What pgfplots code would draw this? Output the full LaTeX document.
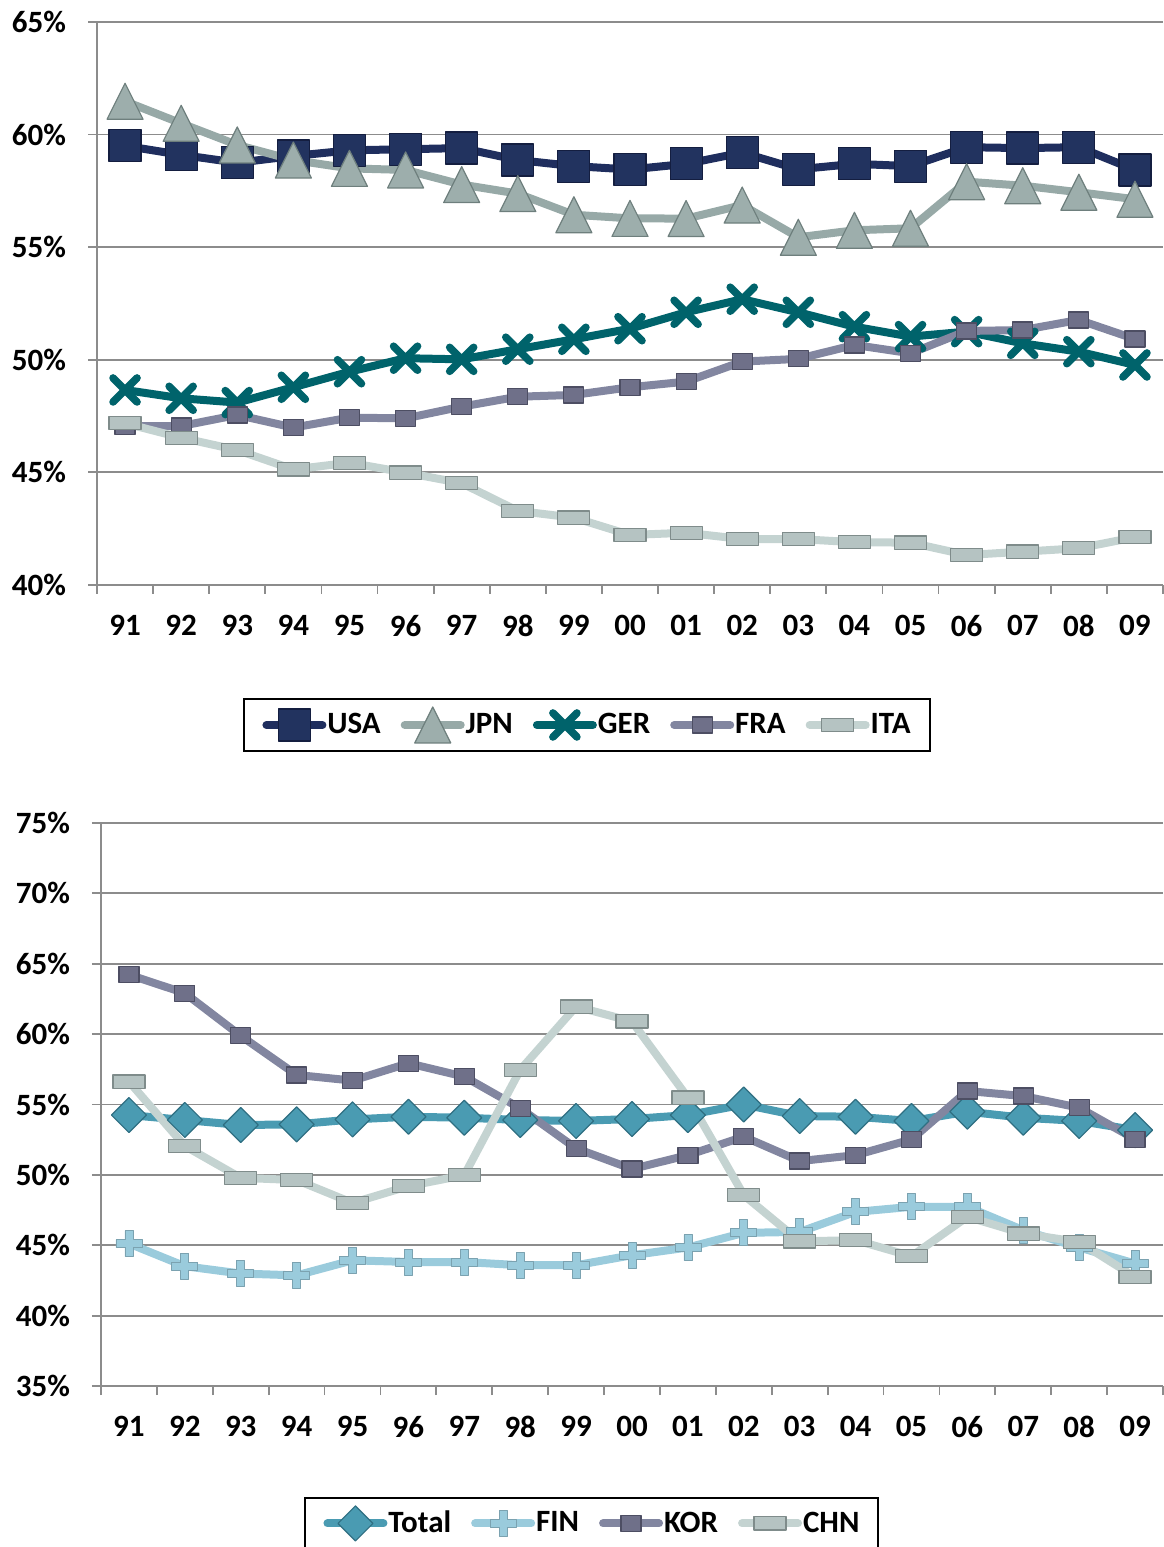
\documentclass[border=0pt]{standalone}
\usepackage{fontspec}
\setmainfont{Carlito}
\usepackage{pgfplots}
\pgfplotsset{compat=1.18}

\definecolor{gridgray}{HTML}{8C8C8C}
\definecolor{usaC}{HTML}{1F2E5E}
\definecolor{usaF}{HTML}{22335F}
\definecolor{usaD}{HTML}{141E40}
\definecolor{jpnC}{HTML}{97A9A7}
\definecolor{jpnF}{HTML}{9DAEAC}
\definecolor{jpnD}{HTML}{6E7F7D}
\definecolor{gerC}{HTML}{00636B}
\definecolor{fraC}{HTML}{8286A0}
\definecolor{fraF}{HTML}{6F7089}
\definecolor{fraD}{HTML}{4D4E63}
\definecolor{itaC}{HTML}{C4D3D1}
\definecolor{itaF}{HTML}{B5C3C2}
\definecolor{itaD}{HTML}{7F8C8B}
\definecolor{totC}{HTML}{4A9BB2}
\definecolor{totD}{HTML}{2F6F82}
\definecolor{finC}{HTML}{9ACBDC}

\pgfdeclareplotmark{usasq}{\pgfpathrectangle{\pgfqpoint{-8pt}{-8pt}}{\pgfqpoint{16pt}{16pt}}\pgfusepathqfillstroke}
\pgfdeclareplotmark{jpntri}{\pgfpathmoveto{\pgfqpoint{0pt}{9pt}}\pgfpathlineto{\pgfqpoint{9pt}{-9pt}}\pgfpathlineto{\pgfqpoint{-9pt}{-9pt}}\pgfpathclose\pgfusepathqfillstroke}
\pgfdeclareplotmark{gerx}{\pgfsetlinewidth{3.8pt}\pgfpathmoveto{\pgfqpoint{-6pt}{-6pt}}\pgfpathlineto{\pgfqpoint{6pt}{6pt}}\pgfpathmoveto{\pgfqpoint{-6pt}{6pt}}\pgfpathlineto{\pgfqpoint{6pt}{-6pt}}\pgfusepathqstroke}
\pgfdeclareplotmark{smallsq}{\pgfpathrectangle{\pgfqpoint{-5pt}{-4pt}}{\pgfqpoint{10pt}{8pt}}\pgfusepathqfillstroke}
\pgfdeclareplotmark{flatrect}{\pgfpathrectangle{\pgfqpoint{-8pt}{-3.3pt}}{\pgfqpoint{16pt}{6.6pt}}\pgfusepathqfillstroke}
\pgfdeclareplotmark{bigdia}{\pgfpathmoveto{\pgfqpoint{0pt}{8.75pt}}\pgfpathlineto{\pgfqpoint{8.75pt}{0pt}}\pgfpathlineto{\pgfqpoint{0pt}{-8.75pt}}\pgfpathlineto{\pgfqpoint{-8.75pt}{0pt}}\pgfpathclose\pgfusepathqfillstroke}
\pgfdeclareplotmark{fatplus}{\pgfpathmoveto{\pgfqpoint{-2pt}{6.5pt}}\pgfpathlineto{\pgfqpoint{2pt}{6.5pt}}\pgfpathlineto{\pgfqpoint{2pt}{2pt}}\pgfpathlineto{\pgfqpoint{6.5pt}{2pt}}\pgfpathlineto{\pgfqpoint{6.5pt}{-2pt}}\pgfpathlineto{\pgfqpoint{2pt}{-2pt}}\pgfpathlineto{\pgfqpoint{2pt}{-6.5pt}}\pgfpathlineto{\pgfqpoint{-2pt}{-6.5pt}}\pgfpathlineto{\pgfqpoint{-2pt}{-2pt}}\pgfpathlineto{\pgfqpoint{-6.5pt}{-2pt}}\pgfpathlineto{\pgfqpoint{-6.5pt}{2pt}}\pgfpathlineto{\pgfqpoint{-2pt}{2pt}}\pgfpathclose\pgfusepathqfillstroke}

\pgfplotstableread{
x USA JPN GER FRA ITA
0 59.50 61.48 48.66 47.05 47.18
1 59.10 60.50 48.29 47.06 46.54
2 58.75 59.54 48.10 47.55 45.99
3 59.05 58.87 48.78 46.99 45.13
4 59.30 58.50 49.47 47.43 45.43
5 59.35 58.43 50.07 47.40 44.99
6 59.40 57.78 50.02 47.92 44.52
7 58.87 57.38 50.47 48.36 43.29
8 58.60 56.44 50.91 48.44 42.99
9 58.45 56.28 51.38 48.78 42.22
10 58.70 56.27 52.11 49.03 42.32
11 59.20 56.87 52.69 49.92 42.04
12 58.46 55.44 52.11 50.04 42.04
13 58.70 55.75 51.47 50.66 41.90
14 58.60 55.84 51.03 50.29 41.88
15 59.44 57.91 51.25 51.28 41.33
16 59.40 57.73 50.73 51.32 41.48
17 59.44 57.44 50.36 51.77 41.63
18 58.43 57.13 49.77 50.92 42.12
}\toptable

\pgfplotstableread{
x Total FIN KOR CHN
0 54.25 45.12 64.22 56.63
1 53.90 43.51 62.91 52.05
2 53.54 42.99 59.88 49.79
3 53.59 42.86 57.10 49.63
4 53.94 43.93 56.70 48.01
5 54.13 43.81 57.93 49.20
6 54.06 43.81 56.98 49.98
7 53.90 43.58 54.73 57.46
8 53.83 43.58 51.88 61.96
9 53.97 44.29 50.42 60.90
10 54.25 44.84 51.40 55.49
11 55.00 45.88 52.71 48.56
12 54.18 45.95 50.98 45.28
13 54.13 47.37 51.40 45.36
14 53.83 47.73 52.52 44.22
15 54.49 47.73 55.96 47.02
16 54.06 46.07 55.60 45.83
17 53.83 44.84 54.77 45.23
18 53.18 43.70 52.54 42.74
}\bottable

\pgfplotsset{
  myaxis/.style={
    scale only axis,
    xmin=-0.5, xmax=18.5,
    xtick={0,...,18},
    xticklabels={91,92,93,94,95,96,97,98,99,00,01,02,03,04,05,06,07,08,09},
    minor xtick={-0.5,0.5,...,18.5},
    major x tick style={draw=none},
    minor x tick style={draw=gridgray, line width=0.9pt},
    ytick style={draw=gridgray, line width=0.9pt},
    minor tick length=4.5pt,
    major tick length=4.5pt,
    tick align=outside,
    axis x line*=bottom, axis y line*=left,
    axis line style={draw=gridgray, line width=0.9pt},
    ymajorgrids,
    grid style={draw=gridgray, line width=0.9pt},
    tick label style={font=\fontsize{15.5}{18}\selectfont\bfseries},
    xticklabel style={yshift=-7pt},
    yticklabel style={xshift=-7.5pt},
    clip=false,
    legend columns=-1,
    legend style={draw=black, line width=1pt, font=\fontsize{15.5}{18}\selectfont\bfseries,
      inner xsep=9pt, inner ysep=4pt,
      /tikz/every even column/.append style={column sep=9.5pt},
      nodes={inner xsep=0.5pt}},
    legend cell align=left,
    legend image code/.code={\draw[mark repeat=2,mark phase=2,##1] plot coordinates {(0pt,0pt) (14pt,0pt) (28pt,0pt)};},
    every axis plot/.append style={line width=4pt, line cap=round, line join=round},
  }
}

\begin{document}
\begin{tikzpicture}[x=1pt,y=1pt]
\useasboundingbox (0,0) rectangle (581.5,773.5);

\begin{axis}[myaxis,
  at={(48.5pt,481pt)}, anchor=south west,
  width=533pt, height=281.5pt,
  ymin=40, ymax=65,
  ytick={40,45,50,55,60,65},
  yticklabels={40\%,45\%,50\%,55\%,60\%,65\%},
  legend style={at={(0.4597,-0.2007)}, anchor=north},
]
\addplot[color=usaC, mark=usasq, mark options={fill=usaF, draw=usaD, line width=0.6pt}] table[x=x,y=USA]{\toptable};
\addlegendentry{USA}
\addplot[color=jpnC, mark=jpntri, mark options={fill=jpnF, draw=jpnD, line width=0.6pt}] table[x=x,y=JPN]{\toptable};
\addlegendentry{JPN}
\addplot[color=gerC, mark=gerx, mark options={draw=gerC}] table[x=x,y=GER]{\toptable};
\addlegendentry{GER}
\addplot[color=fraC, mark=smallsq, mark options={fill=fraF, draw=fraD, line width=0.6pt}] table[x=x,y=FRA]{\toptable};
\addlegendentry{FRA}
\addplot[color=itaC, mark=flatrect, mark options={fill=itaF, draw=itaD, line width=0.6pt}] table[x=x,y=ITA]{\toptable};
\addlegendentry{ITA}
\end{axis}

\begin{axis}[myaxis,
  at={(50.5pt,80.5pt)}, anchor=south west,
  width=531pt, height=281.5pt,
  ymin=35, ymax=75,
  ytick={35,40,45,50,55,60,65,70,75},
  yticklabels={35\%,40\%,45\%,50\%,55\%,60\%,65\%,70\%,75\%},
  legend style={at={(0.4623,-0.197)}, anchor=north},
]
\addplot[color=totC, mark=bigdia, mark options={fill=totC, draw=totD, line width=0.6pt}] table[x=x,y=Total]{\bottable};
\addlegendentry{Total}
\addplot[color=finC, mark=fatplus, mark options={fill=finC, draw=finC!80!black, line width=0.4pt}] table[x=x,y=FIN]{\bottable};
\addlegendentry{FIN}
\addplot[color=fraC, mark=smallsq, mark options={fill=fraF, draw=fraD, line width=0.6pt}] table[x=x,y=KOR]{\bottable};
\addlegendentry{KOR}
\addplot[color=itaC, mark=flatrect, mark options={fill=itaF, draw=itaD, line width=0.6pt}] table[x=x,y=CHN]{\bottable};
\addlegendentry{CHN}
\end{axis}
\end{tikzpicture}
\end{document}
